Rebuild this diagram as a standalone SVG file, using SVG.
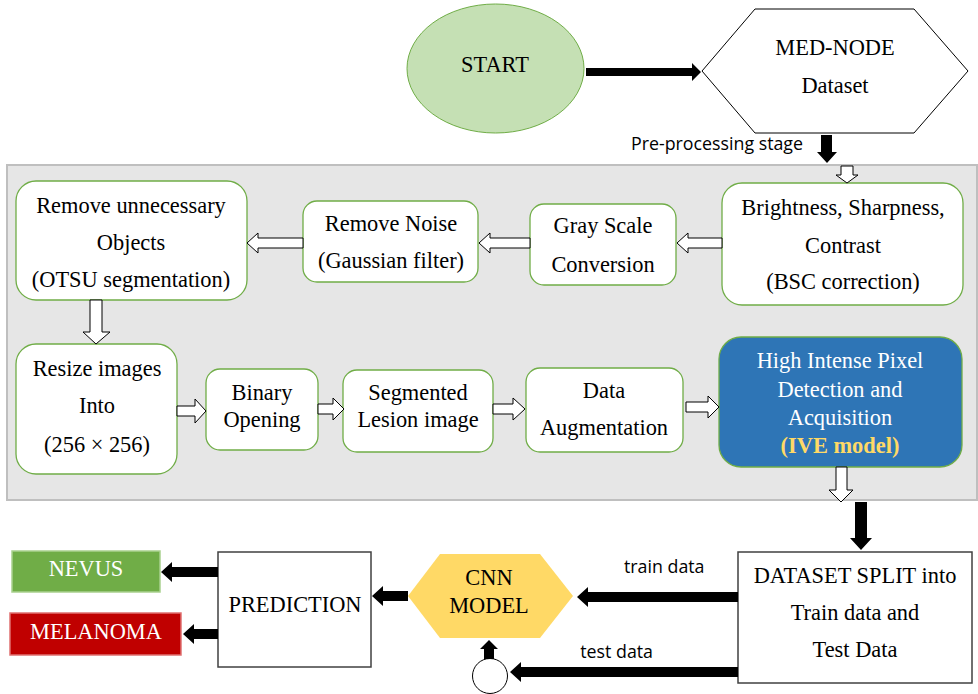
<svg xmlns="http://www.w3.org/2000/svg" width="978" height="694" viewBox="0 0 978 694">
<style>
.t{font-family:"Liberation Serif","Times New Roman",serif;font-size:22.4px;fill:#000;text-anchor:middle}
.w{fill:#fff}
.s{font-family:"Open Sans","Liberation Sans",Arial,sans-serif;font-size:17.8px;fill:#000}
.box{fill:#fff;stroke:#70ad47;stroke-width:1.3}
.blk{fill:#000}
.hol{fill:#fff;stroke:#000;stroke-width:1}
</style>
<rect x="0" y="0" width="978" height="694" fill="#fff"/>
<rect id="panel" x="7" y="165" width="970" height="335" fill="#e6e6e6" stroke="#bfbfbf" stroke-width="2"/>

<g id="start"><ellipse cx="495.5" cy="68.5" rx="88.5" ry="64.5" fill="#c5e0b4" stroke="#70ad47" stroke-width="1"/><text class="t" x="495" y="72">START</text></g>
<g id="mednode"><polygon points="702,71 755,9 914,9 968,71 914,133 755,133" fill="#fff" stroke="#000" stroke-width="1"/><text class="t" x="835" y="55">MED-NODE</text><text class="t" x="835" y="93">Dataset</text></g>
<text class="s" x="803" y="150" text-anchor="end">Pre-processing stage</text>

<g id="bsc"><rect class="box" x="722" y="183" width="241" height="122" rx="20"/><text class="t" x="843" y="215">Brightness, Sharpness,</text><text class="t" x="843" y="253">Contrast</text><text class="t" x="843" y="289">(BSC correction)</text></g>
<g id="gray"><rect class="box" x="530" y="204" width="146" height="81" rx="14"/><text class="t" x="603" y="233">Gray Scale</text><text class="t" x="603" y="272">Conversion</text></g>
<g id="noise"><rect class="box" x="303" y="201" width="175" height="81" rx="14"/><text class="t" x="391" y="231">Remove Noise</text><text class="t" x="391" y="268">(Gaussian filter)</text></g>
<g id="remove"><rect class="box" x="16" y="181" width="231" height="119" rx="20"/><text class="t" x="131" y="213">Remove unnecessary</text><text class="t" x="131" y="250">Objects</text><text class="t" x="131" y="287">(OTSU segmentation)</text></g>
<g id="resize"><rect class="box" x="16" y="344" width="161" height="130" rx="20"/><text class="t" x="97" y="376">Resize images</text><text class="t" x="97" y="413">Into</text><text class="t" x="97" y="452">(256 × 256)</text></g>
<g id="binary"><rect class="box" x="206" y="369" width="112" height="81" rx="14"/><text class="t" x="262" y="400">Binary</text><text class="t" x="262" y="427">Opening</text></g>
<g id="segmented"><rect class="box" x="343" y="370" width="150" height="82" rx="14"/><text class="t" x="418" y="400">Segmented</text><text class="t" x="418" y="427">Lesion image</text></g>
<g id="augment"><rect class="box" x="526" y="368" width="157" height="84" rx="14"/><text class="t" x="604" y="398">Data</text><text class="t" x="604" y="435">Augmentation</text></g>
<g id="ive"><rect x="719" y="337" width="243" height="130" rx="22" fill="#2e75b6" stroke="#70ad47" stroke-width="1.3"/><text class="t w" x="840" y="368">High Intense Pixel</text><text class="t w" x="840" y="397">Detection and</text><text class="t w" x="840" y="425">Acquisition</text><text class="t" x="840" y="453" style="fill:#ffd966;font-weight:bold">(IVE model)</text></g>

<g id="split"><rect x="738" y="552" width="234" height="131" fill="#fff" stroke="#404040" stroke-width="1.5"/><text class="t" x="855" y="583">DATASET SPLIT into</text><text class="t" x="855" y="620">Train data and</text><text class="t" x="855" y="657">Test Data</text></g>
<g id="cnn"><polygon points="408,596 440,554 540,554 573,596 540,638 440,638" fill="#ffd966"/><text class="t" x="489" y="585">CNN</text><text class="t" x="489" y="613">MODEL</text></g>
<g id="circle"><circle cx="490" cy="676" r="17.5" fill="#fff" stroke="#000" stroke-width="1"/></g>
<g id="prediction"><rect x="218" y="552" width="153" height="115" fill="#fff" stroke="#404040" stroke-width="1.5"/><text class="t" x="295" y="612">PREDICTION</text></g>
<g id="nevus"><rect x="12" y="551" width="148" height="41" fill="#70ad47" stroke="#a9d18e" stroke-width="1.5"/><text class="t w" x="86" y="576">NEVUS</text></g>
<g id="melanoma"><rect x="10" y="613" width="171" height="42" fill="#c00000" stroke="#e07070" stroke-width="1.5"/><text class="t w" x="96" y="639">MELANOMA</text></g>
<text class="s" x="624" y="573">train data</text>
<text class="s" x="653" y="658" text-anchor="end">test data</text>

<g id="connectors">
<polygon class="blk" points="586,68 692,68 692,63 701,72 692,81 692,76 586,76"/>
<polygon class="blk" points="821,135 832,135 832,152 837,152 827,163 817,152 821,152"/>
<polygon class="blk" points="855,502 867,502 867,538 872,538 861,550 850,538 855,538"/>
<polygon class="blk" points="577,597 588,587 588,592 738,592 738,602 588,602 588,607"/>
<polygon class="blk" points="510,672 521,662 521,667 738,667 738,677 521,677 521,682"/>
<polygon class="blk" points="489,640 498,649 494,649 494,659 484,659 484,649 480,649"/>
<polygon class="blk" points="372,596 383,586 383,591 408,591 408,601 383,601 383,606"/>
<polygon class="blk" points="161,572 172,562 172,567 218,567 218,577 172,577 172,582"/>
<polygon class="blk" points="183,634 194,624 194,629 218,629 218,639 194,639 194,644"/>
<polygon class="hol" points="841,166 853,166 853,175 858,175 847,183 836,175 841,175"/>
<polygon class="hol" points="677,243 688,233 688,238 722,238 722,248 688,248 688,253"/>
<polygon class="hol" points="479,243 490,233 490,238 530,238 530,248 490,248 490,253"/>
<polygon class="hol" points="247,243 258,233 258,238 303,238 303,248 258,248 258,253"/>
<polygon class="hol" points="90,300 102,300 102,332 110,332 96,344 83,332 90,332"/>
<polygon class="hol" points="177,406 195,406 195,399 206,411 195,423 195,416 177,416"/>
<polygon class="hol" points="318,404 333,404 333,398 344,409 333,420 333,414 318,414"/>
<polygon class="hol" points="493,404 513,404 513,398 525,409 513,420 513,414 493,414"/>
<polygon class="hol" points="686,402 708,402 708,396 719,407 708,418 708,412 686,412"/>
<polygon class="hol" points="836,467 847,467 847,490 853,490 841,502 829,490 836,490"/>
</g>
</svg>
